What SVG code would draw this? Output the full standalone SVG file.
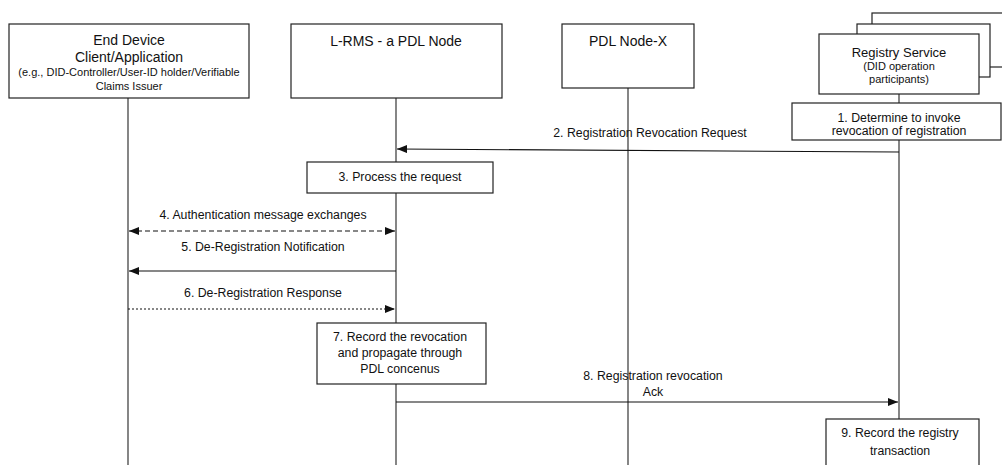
<svg xmlns="http://www.w3.org/2000/svg" width="1002" height="465" viewBox="0 0 1002 465">
  <style>
    .box { fill: #ffffff; stroke: #222222; stroke-width: 1.2; }
    .life { stroke: #222222; stroke-width: 1.1; fill: none; }
    .msg { stroke: #111111; stroke-width: 1.1; fill: none; }
    .dash { stroke-dasharray: 5 3; }
    .dot { stroke-dasharray: 2 2; }
    text { font-family: "Liberation Sans", Arial, sans-serif; fill: #111111; text-anchor: middle; }
    .title { font-size: 14px; }
    .sub { font-size: 11px; }
    .lbl { font-size: 12.3px; }
  </style>
  <defs>
    <marker id="arrowEnd" viewBox="0 0 10 8" refX="10" refY="4" markerWidth="10" markerHeight="8" markerUnits="userSpaceOnUse" orient="auto">
      <path d="M0,0 L10,4 L0,8 Z" fill="#111111"/>
    </marker>
    <marker id="arrowStart" viewBox="0 0 10 8" refX="0" refY="4" markerWidth="10" markerHeight="8" markerUnits="userSpaceOnUse" orient="auto">
      <path d="M10,0 L0,4 L10,8 Z" fill="#111111"/>
    </marker>
  </defs>

  <rect width="1002" height="465" fill="#ffffff"/>

  <!-- lifelines -->
  <g id="lifelines">
    <line class="life" x1="128" y1="98" x2="128" y2="465"/>
    <line class="life" x1="396" y1="98" x2="396" y2="162"/>
    <line class="life" x1="396" y1="193" x2="396" y2="323"/>
    <line class="life" x1="396" y1="384" x2="396" y2="465"/>
    <line class="life" x1="628" y1="88" x2="628" y2="465"/>
    <line class="life" x1="899" y1="94" x2="899" y2="104"/>
    <line class="life" x1="899" y1="140" x2="899" y2="419"/>
  </g>

  <!-- participants -->
  <g id="end-device">
    <rect class="box" x="9" y="24" width="240" height="74"/>
    <text class="title" x="129" y="45">End Device</text>
    <text class="title" x="129" y="62">Client/Application</text>
    <text class="sub" x="129" y="76">(e.g., DID-Controller/User-ID holder/Verifiable</text>
    <text class="sub" x="129" y="90">Claims Issuer</text>
  </g>

  <g id="l-rms">
    <rect class="box" x="291" y="24" width="211" height="74"/>
    <text class="title" x="396" y="46">L-RMS - a PDL Node</text>
  </g>

  <g id="pdl-node-x">
    <rect class="box" x="562" y="24" width="132" height="64"/>
    <text class="title" x="628" y="46">PDL Node-X</text>
  </g>

  <g id="registry-service">
    <rect class="box" x="872" y="13" width="140" height="54"/>
    <rect class="box" x="857" y="24" width="133" height="53"/>
    <rect class="box" x="819" y="34" width="160" height="60"/>
    <text class="title" x="899" y="57" style="font-size:13px">Registry Service</text>
    <text class="sub" x="899" y="70">(DID operation</text>
    <text class="sub" x="899" y="83">participants)</text>
  </g>

  <!-- activity boxes -->
  <g id="step-1">
    <rect class="box" x="792" y="103" width="209" height="37"/>
    <text class="lbl" x="899" y="122">1. Determine to invoke</text>
    <text class="lbl" x="899" y="135">revocation of registration</text>
  </g>

  <g id="step-3">
    <rect class="box" x="307" y="162" width="186" height="31"/>
    <text class="lbl" x="400" y="181">3. Process the request</text>
  </g>

  <g id="step-7">
    <rect class="box" x="317" y="323" width="169" height="61"/>
    <text class="lbl" x="400" y="341">7. Record the revocation</text>
    <text class="lbl" x="400" y="357">and propagate through</text>
    <text class="lbl" x="400" y="373">PDL concenus</text>
  </g>

  <g id="step-9">
    <rect class="box" x="826" y="419" width="153" height="52"/>
    <text class="lbl" x="900" y="437">9. Record the registry</text>
    <text class="lbl" x="900" y="455">transaction</text>
  </g>

  <!-- messages -->
  <g id="connectors">
    <line class="msg" x1="899" y1="152" x2="397" y2="149" marker-end="url(#arrowEnd)"/>
    <text class="lbl" x="650" y="137">2. Registration Revocation Request</text>

    <line class="msg dash" x1="129" y1="231" x2="395" y2="231" marker-start="url(#arrowStart)" marker-end="url(#arrowEnd)"/>
    <text class="lbl" x="263" y="219">4. Authentication message exchanges</text>

    <line class="msg" x1="396" y1="271" x2="129" y2="271" marker-end="url(#arrowEnd)"/>
    <text class="lbl" x="263" y="251">5. De-Registration Notification</text>

    <line class="msg dot" x1="128" y1="309" x2="395" y2="309" marker-end="url(#arrowEnd)"/>
    <text class="lbl" x="263" y="297">6. De-Registration Response</text>

    <line class="msg" x1="396" y1="402" x2="898" y2="402" marker-end="url(#arrowEnd)"/>
    <text class="lbl" x="653" y="380">8. Registration revocation</text>
    <text class="lbl" x="653" y="396">Ack</text>
  </g>
</svg>
